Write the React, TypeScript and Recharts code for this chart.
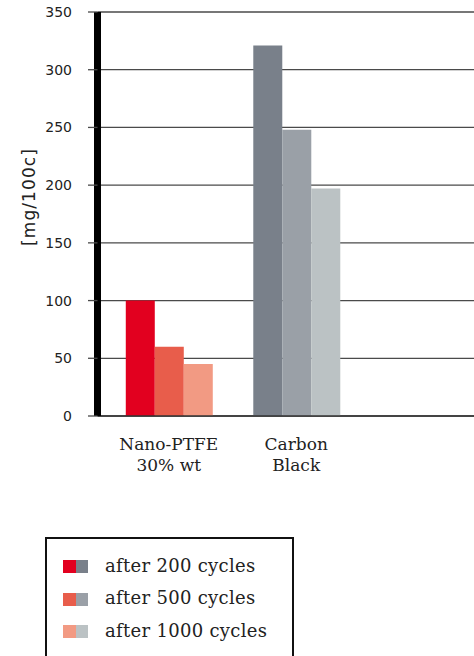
import { Bar, BarChart, CartesianGrid, Cell, XAxis, YAxis } from "recharts";

const CATEGORIES = ["Nano-PTFE\n30% wt", "Carbon\nBlack"];
const SERIES = ["after 200 cycles", "after 500 cycles", "after 1000 cycles"];
const AFTER_200 = [100, 321];
const AFTER_500 = [60, 248];
const AFTER_1000 = [45, 197];
const Y_TICKS = [0, 50, 100, 150, 200, 250, 300, 350];

// per series: [nano colour, carbon colour]
const COLORS = [
  ["#e2001f", "#79808a"],
  ["#e85d4b", "#9aa0a7"],
  ["#f29a83", "#bbc2c4"],
];

const KEYS = ["s200", "s500", "s1000"];
const SERIF = "'DejaVu Serif', serif";
const SANS = "'DejaVu Sans', sans-serif";

const data = CATEGORIES.map((name, i) => ({
  name,
  s200: AFTER_200[i],
  s500: AFTER_500[i],
  s1000: AFTER_1000[i],
}));

function CategoryTick({ x, y, payload }: any) {
  const lines = String(payload.value).split("\n");
  return (
    <text x={x} y={y} textAnchor="middle" fontFamily={SERIF} fontSize={17} fill="#222">
      {lines.map((l, i) => (
        <tspan key={i} x={x} dy={i === 0 ? 26 : 21}>
          {l}
        </tspan>
      ))}
    </text>
  );
}

function AxisLabel() {
  return (
    <text
      x={29}
      y={197}
      transform="rotate(-90 29 197)"
      textAnchor="middle"
      dominantBaseline="central"
      fontFamily={SANS}
      fontSize={17}
      letterSpacing={1.1}
      fill="#222"
    >
      [mg/100c]
    </text>
  );
}

export default function App() {
  return (
    <div style={{ position: "absolute", left: 0, top: 0, width: 474, height: 656, background: "#fff", overflow: "hidden" }}>
      <BarChart
        width={474}
        height={656}
        data={data}
        margin={{ top: 12, right: 0, left: 0, bottom: 180 }}
        barCategoryGap="16.3%"
        barGap={0}
      >
        <CartesianGrid vertical={false} stroke="#4a4a4a" strokeWidth={1.3} />
        <XAxis
          dataKey="name"
          height={60}
          interval={0}
          tick={<CategoryTick />}
          tickLine={false}
          axisLine={{ stroke: "#333", strokeWidth: 1.6 }}
          padding={{ left: 7.5, right: 114 }}
        />
        <YAxis
          width={97.5}
          domain={[0, 350]}
          ticks={Y_TICKS}
          interval={0}
          tickSize={9.5}
          tickMargin={16}
          tick={{ fontFamily: SANS, fontSize: 14, fill: "#222" }}
          tickLine={{ stroke: "#4a4a4a", strokeWidth: 1.3 }}
          axisLine={{ stroke: "#000", strokeWidth: 7 }}
          label={<AxisLabel />}
        />
        {KEYS.map((k, s) => (
          <Bar key={k} dataKey={k} name={SERIES[s]} isAnimationActive={false}>
            {data.map((_, i) => (
              <Cell key={i} fill={COLORS[s][i]} />
            ))}
          </Bar>
        ))}
      </BarChart>
      <div
        style={{
          position: "absolute",
          left: 45,
          top: 537,
          width: 249,
          height: 140,
          border: "2px solid #111",
          boxSizing: "border-box",
          fontFamily: SERIF,
          fontSize: 18,
          letterSpacing: 0.3,
          color: "#222",
        }}
      >
        {SERIES.map((s, i) => (
          <div
            key={s}
            style={{ position: "absolute", left: 16, top: 21 + i * 32.5, display: "flex", alignItems: "center", height: 13 }}
          >
            <span style={{ width: 12.5, height: 13, background: COLORS[i][0], display: "inline-block" }} />
            <span style={{ width: 12.5, height: 13, background: COLORS[i][1], display: "inline-block" }} />
            <span style={{ marginLeft: 17, whiteSpace: "nowrap", lineHeight: "13px", position: "relative", top: -1.5 }}>{s}</span>
          </div>
        ))}
      </div>
    </div>
  );
}
